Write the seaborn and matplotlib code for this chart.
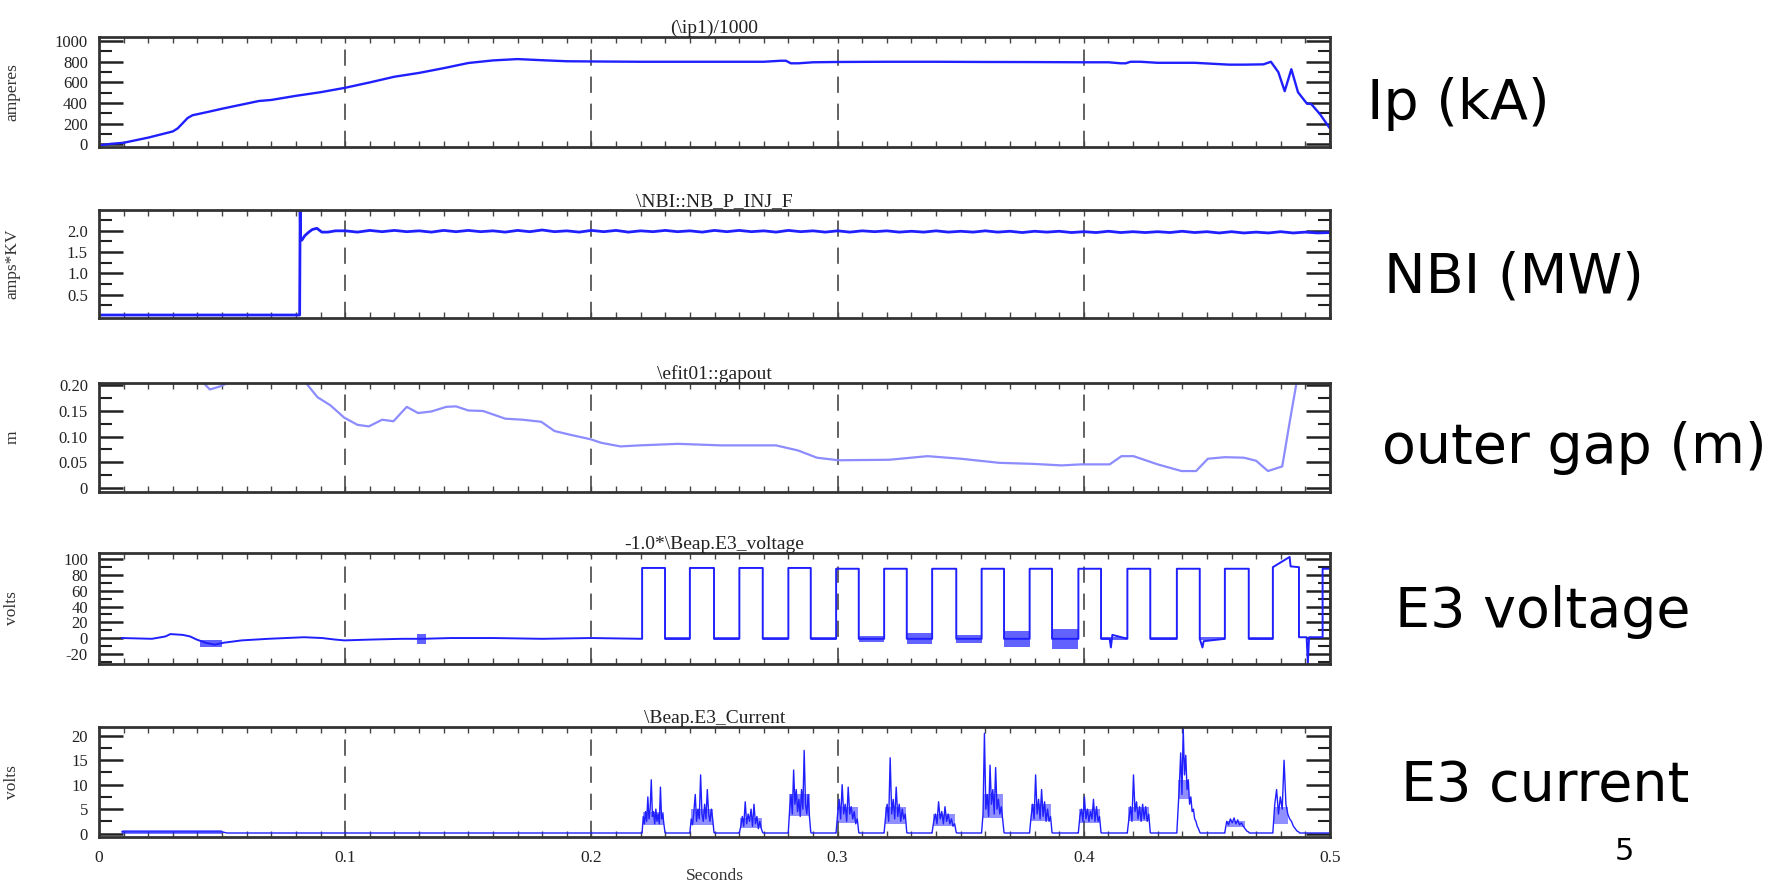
import numpy as np
import pandas as pd
import matplotlib
matplotlib.use("Agg")
import matplotlib.pyplot as plt
import seaborn as sns
from matplotlib.ticker import FixedLocator, MultipleLocator

sns.set_theme(style="white")
plt.rcParams['font.family'] = ['Liberation Serif', 'DejaVu Serif']

# ---------------- data ----------------
x_ticks = [0.0, 0.1, 0.2, 0.3, 0.4, 0.5]
x_tick_labels = ["0", "0.1", "0.2", "0.3", "0.4", "0.5"]

titles = ["(\\ip1)/1000", "\\NBI::NB_P_INJ_F", "\\efit01::gapout",
          "-1.0*\\Beap.E3_voltage", "\\Beap.E3_Current"]
ylabels = ["amperes", "amps*KV", "m", "volts", "volts"]
side_labels = ["Ip (kA)", "NBI (MW)", "outer gap (m)", "E3 voltage", "E3 current"]
page_number = "5"

# Plasma current
ip_t = [0.000, 0.005, 0.010, 0.015, 0.020, 0.025, 0.030, 0.032, 0.034, 0.036, 0.038, 0.040,
        0.045, 0.050, 0.060, 0.065, 0.070, 0.080, 0.090, 0.100, 0.110, 0.120, 0.130, 0.140,
        0.150, 0.160, 0.170, 0.180, 0.190, 0.200, 0.220, 0.240, 0.260, 0.270, 0.277, 0.279,
        0.281, 0.284, 0.290, 0.300, 0.320, 0.340, 0.360, 0.380, 0.400, 0.410, 0.415, 0.417,
        0.419, 0.423, 0.430, 0.445, 0.459, 0.465, 0.473, 0.476, 0.479, 0.4816, 0.4843, 0.487,
        0.4906, 0.4924, 0.496, 0.500]
ip_v = [-10, 5, 15, 40, 65, 95, 125, 155, 205, 255, 282, 292,
        318, 345, 395, 420, 430, 470, 505, 548, 600, 655, 692, 738,
        788, 813, 826, 815, 805, 803, 800, 800, 800, 800, 810, 810,
        785, 785, 795, 798, 800, 800, 798, 797, 795, 795, 785, 785,
        800, 800, 790, 790, 772, 772, 775, 800, 700, 515, 728, 505,
        395, 390, 290, 153]

# NBI power
nbi_pre_t = [0.0, 0.0815, 0.0817, 0.0819, 0.0824, 0.0835, 0.0850, 0.0866, 0.0885, 0.0905, 0.0930, 0.0960]
nbi_pre_v = [0.02, 0.02, 2.48, 1.80, 1.78, 1.88, 1.96, 2.03, 2.06, 1.97, 1.97, 2.00]
nbi_plateau_t0, nbi_plateau_dt = 0.100, 0.005
nbi_plateau_v = [2.00, 1.97, 2.01, 1.98, 2.01, 1.98, 2.00, 1.97, 2.01, 1.98,
                 2.01, 1.98, 2.00, 1.97, 2.01, 1.98, 2.02, 1.98, 2.00, 1.97,
                 2.01, 1.98, 2.01, 1.97, 2.00, 1.98, 2.01, 1.98, 2.00, 1.97,
                 2.01, 1.98, 2.01, 1.98, 2.00, 1.97, 2.01, 1.98, 2.00, 1.97,
                 2.00, 1.97, 2.00, 1.98, 2.00, 1.97, 1.99, 1.97, 2.00, 1.97,
                 1.99, 1.97, 2.00, 1.97, 1.99, 1.96, 1.99, 1.97, 1.99, 1.96,
                 1.98, 1.96, 1.99, 1.96, 1.98, 1.96, 1.98, 1.96, 1.99, 1.96,
                 1.98, 1.95, 1.98, 1.95, 1.97, 1.95, 1.98, 1.95, 1.97, 1.95, 1.96]

# Outer gap
gap_t = [0.010, 0.040, 0.0424, 0.045, 0.0487, 0.054, 0.060, 0.080, 0.084, 0.0887,
         0.094, 0.0996, 0.105, 0.1096, 0.115, 0.1196, 0.125, 0.1296, 0.135, 0.141,
         0.145, 0.150, 0.156, 0.165, 0.172, 0.1796, 0.185, 0.192, 0.1996, 0.204,
         0.2118, 0.2196, 0.2352, 0.2527, 0.275, 0.284, 0.2916, 0.3004, 0.321, 0.3365,
         0.350, 0.3657, 0.3793, 0.391, 0.3988, 0.4105, 0.4153, 0.4202, 0.430, 0.4397,
         0.4456, 0.4504, 0.4573, 0.465, 0.470, 0.4748, 0.4806, 0.4835, 0.4864, 0.490, 0.500]
gap_v = [0.300, 0.260, 0.205, 0.192, 0.197, 0.208, 0.260, 0.260, 0.205, 0.177,
         0.161, 0.137, 0.123, 0.120, 0.133, 0.130, 0.158, 0.146, 0.149, 0.158,
         0.159, 0.151, 0.150, 0.135, 0.133, 0.129, 0.111, 0.103, 0.095, 0.088,
         0.081, 0.083, 0.086, 0.083, 0.083, 0.073, 0.059, 0.054, 0.055, 0.062,
         0.057, 0.049, 0.047, 0.044, 0.046, 0.046, 0.062, 0.062, 0.046, 0.033,
         0.033, 0.057, 0.060, 0.059, 0.053, 0.033, 0.042, 0.125, 0.205, 0.300, 0.300]

# E3 voltage
e3v_pre_t = [0.0092, 0.0215, 0.027, 0.029, 0.034, 0.037, 0.0397, 0.0433, 0.047, 0.0506,
             0.058, 0.0687, 0.0833, 0.0906, 0.096, 0.0997, 0.110, 0.123, 0.1315, 0.143,
             0.160, 0.180, 0.200, 0.2206]
e3v_pre_v = [0.0, -1.0, 2.0, 5.0, 4.0, 2.0, -2.0, -6.0, -8.5, -6.0,
             -3.0, -1.0, 1.0, 0.0, -2.0, -3.0, -2.0, -1.0, -1.0, 0.0,
             0.0, -1.0, 0.0, -1.0]
e3v_rise = [0.2206, 0.2400, 0.2601, 0.2800, 0.2994, 0.3189, 0.3384, 0.3585,
            0.3780, 0.3978, 0.4177, 0.4378, 0.4573, 0.4768, 0.4970]
e3v_fall = [0.2299, 0.2498, 0.2696, 0.2891, 0.3086, 0.3281, 0.3482, 0.3676,
            0.3871, 0.4070, 0.4270, 0.4471, 0.4670, 0.4874]
e3v_high = [89, 89, 89, 89, 88, 88, 88, 88, 88, 88, 88, 88, 88, 90, 88]
e3v_low = [-1, -1, -1, -1, -1, -1, -1, -1, -1, -1, -1, -1, -1, 1]
e3v_detail_t = [0.4105, 0.4110, 0.4116, 0.4482, 0.4487, 0.4836, 0.4840, 0.4905, 0.4910, 0.4915]
e3v_detail_v = [-1, -12, 4, -12, -4, 103, 91, 1, -32, 1]
e3v_band_t0 = [0.0410, 0.1290, 0.2299, 0.2498, 0.2696, 0.2891, 0.3086, 0.3281, 0.3482, 0.3676, 0.3871, 0.4070, 0.4270, 0.4471, 0.4670]
e3v_band_t1 = [0.0500, 0.1330, 0.2400, 0.2601, 0.2800, 0.2994, 0.3189, 0.3384, 0.3585, 0.3780, 0.3978, 0.4177, 0.4378, 0.4573, 0.4768]
e3v_band_lo = [-12, -7, -3, -3, -3, -3, -5, -8, -6, -11, -14, -3, -3, -3, -3]
e3v_band_hi = [-3, 5, 1, 1, 1, 1, 2, 6, 4, 9, 12, 1, 1, 1, 1]

# E3 current
cur_base_t = [0.0092, 0.0500, 0.0520, 0.2206]
cur_base_v = [0.35, 0.35, 0.12, 0.12]
cur_base_level = 0.12
cur_end_t = 0.500
cur_bursts = [
    [0.2, 3.5, 2.0, 4.5, 2.5, 7.5, 3.0, 5.0, 11.0, 3.5, 4.5, 2.0, 5.0, 2.5, 4.0, 2.0, 9.5, 3.0, 4.0, 2.0, 0.2],
    [0.2, 3.0, 1.8, 4.5, 8.0, 2.5, 5.0, 3.0, 12.0, 4.0, 2.5, 6.0, 3.0, 9.0, 4.0, 2.5, 5.0, 3.0, 0.2],
    [0.2, 1.5, 3.5, 1.5, 6.5, 2.0, 4.0, 2.5, 5.0, 1.5, 6.0, 2.0, 3.5, 1.0, 2.5, 1.0, 0.2],
    [0.5, 5.0, 8.0, 4.0, 13.0, 6.0, 9.0, 4.5, 7.0, 3.5, 9.0, 5.0, 17.0, 6.0, 4.0, 8.0, 3.5, 0.3],
    [0.3, 4.0, 7.0, 3.0, 10.0, 4.0, 6.0, 2.5, 9.5, 4.0, 5.5, 3.0, 4.5, 2.0, 3.0, 0.2],
    [0.3, 3.5, 6.0, 2.5, 15.5, 4.0, 7.0, 3.0, 9.5, 3.5, 6.0, 2.5, 5.0, 3.0, 4.0, 0.2],
    [0.3, 2.5, 4.0, 2.0, 6.5, 3.0, 4.5, 2.0, 5.5, 2.5, 4.0, 2.0, 3.0, 1.5, 2.0, 0.2],
    [0.3, 4.0, 20.5, 5.0, 8.0, 3.5, 14.0, 6.0, 9.0, 4.0, 13.5, 5.0, 7.0, 4.0, 5.5, 3.0, 0.2],
    [0.3, 3.5, 6.0, 3.0, 12.0, 4.0, 7.0, 3.0, 9.0, 3.5, 6.5, 2.5, 5.0, 2.5, 3.5, 0.2],
    [0.3, 3.5, 5.0, 2.5, 7.5, 3.0, 5.0, 2.5, 4.5, 3.0, 7.0, 2.5, 5.5, 2.5, 3.5, 0.2],
    [0.3, 3.0, 5.5, 2.5, 12.0, 4.5, 6.5, 3.0, 5.5, 2.5, 6.0, 3.0, 5.5, 2.5, 4.0, 0.2],
    [0.3, 5.0, 10.0, 16.5, 8.0, 21.5, 12.0, 16.0, 9.0, 11.0, 6.0, 7.5, 4.5, 5.0, 3.0, 2.5, 1.5, 1.0, 0.3],
    [0.3, 2.5, 1.8, 3.0, 2.2, 3.2, 2.0, 2.8, 1.8, 2.2, 1.5, 1.0, 0.5, 0.3],
    [0.3, 6.0, 9.0, 4.0, 7.5, 5.0, 15.0, 6.0, 4.0, 3.0, 2.5, 1.5, 1.0, 0.5, 0.3],
]
# dense noisy body of each burst (lower / upper envelope)
cur_band_t0 = [0.2210, 0.2404, 0.2605, 0.2804, 0.2998, 0.3193, 0.3388, 0.3589, 0.3784, 0.3982, 0.4181, 0.4384, 0.4580, 0.4772]
cur_band_t1 = [0.2295, 0.2494, 0.2692, 0.2887, 0.3082, 0.3277, 0.3478, 0.3672, 0.3867, 0.4066, 0.4266, 0.4428, 0.4655, 0.4828]
cur_band_lo = [1.8, 1.8, 1.2, 3.5, 2.2, 2.0, 1.6, 3.2, 2.5, 2.2, 2.5, 7.0, 1.4, 2.0]
cur_band_hi = [4.5, 5.0, 3.2, 8.0, 5.5, 5.5, 4.0, 8.0, 6.0, 5.0, 5.5, 11.0, 2.6, 5.5]

panel_ylims = [(-26, 1040), (-0.05, 2.49), (-0.0078, 0.2045), (-33, 108), (-0.7, 21.8)]
panel_major = [[0, 200, 400, 600, 800, 1000], [0.5, 1.0, 1.5, 2.0],
               [0, 0.05, 0.10, 0.15, 0.20], [-20, 0, 20, 40, 60, 80, 100], [0, 5, 10, 15, 20]]
panel_major_labels = [["0", "200", "400", "600", "800", "1000"], ["0.5", "1.0", "1.5", "2.0"],
                      ["0", "0.05", "0.10", "0.15", "0.20"],
                      ["-20", "0", "20", "40", "60", "80", "100"], ["0", "5", "10", "15", "20"]]
panel_minor = [[100, 300, 500, 700, 900], [0.25, 0.75, 1.25, 1.75, 2.25],
               [0.025, 0.075, 0.125, 0.175], [-30, -10, 10, 30, 50, 70, 90],
               [2.5, 7.5, 12.5, 17.5]]

# ---------------- build series ----------------
nbi_t = nbi_pre_t + [round(nbi_plateau_t0 + i * nbi_plateau_dt, 4) for i in range(len(nbi_plateau_v))]
nbi_v = nbi_pre_v + nbi_plateau_v

pts = list(zip(e3v_pre_t[:-1], e3v_pre_v[:-1]))
prev_low = e3v_pre_v[-1]
for i, tr in enumerate(e3v_rise):
    pts.append((tr, prev_low))
    pts.append((tr, e3v_high[i]))
    if i < len(e3v_fall):
        pts.append((e3v_fall[i], e3v_high[i]))
        pts.append((e3v_fall[i], e3v_low[i]))
        prev_low = e3v_low[i]
    else:
        pts.append((0.5, e3v_high[i]))
pts += list(zip(e3v_detail_t, e3v_detail_v))
pts = sorted(pts, key=lambda p: p[0])
e3v_df = pd.DataFrame(pts, columns=["t", "v"])

cpts = list(zip(cur_base_t, cur_base_v))
for i, vals in enumerate(cur_bursts):
    ts = np.linspace(e3v_rise[i], e3v_fall[i], len(vals))
    cpts += list(zip(ts, vals))
    nxt = e3v_rise[i + 1] if i + 1 < len(cur_bursts) else cur_end_t
    cpts.append((e3v_fall[i] + 0.0002, cur_base_level))
    cpts.append((nxt, cur_base_level))
cur_df = pd.DataFrame(cpts, columns=["t", "v"])

# ---------------- figure ----------------
W, H = 1786, 889
fig = plt.figure(figsize=(W / 100, H / 100), dpi=100)
left_px, right_px = 99, 1330
panel_px = [(37, 147), (210, 318), (383, 492), (553, 664), (727, 837)]
axes = []
for (top, bot) in panel_px:
    ax = fig.add_axes([left_px / W, 1 - bot / H, (right_px - left_px) / W, (bot - top) / H])
    axes.append(ax)

blue = "#2020ff"
light_blue = "#8c8cff"

sns.lineplot(x=ip_t, y=ip_v, ax=axes[0], estimator=None, sort=False, color=blue, linewidth=1.7)
sns.lineplot(x=nbi_t, y=nbi_v, ax=axes[1], estimator=None, sort=False, color=blue, linewidth=2.0)
sns.lineplot(x=gap_t, y=gap_v, ax=axes[2], estimator=None, sort=False, color=light_blue, linewidth=1.6)
for t0, t1, lo, hi in zip(e3v_band_t0, e3v_band_t1, e3v_band_lo, e3v_band_hi):
    axes[3].fill_between([t0, t1], [lo, lo], [hi, hi], color=blue, alpha=0.7, linewidth=0)
sns.lineplot(data=e3v_df, x="t", y="v", ax=axes[3], estimator=None, sort=False, color=blue, linewidth=1.4)
for t0, t1, lo, hi in zip(cur_band_t0, cur_band_t1, cur_band_lo, cur_band_hi):
    axes[4].fill_between([t0, t1], [lo, lo], [hi, hi], color=blue, alpha=0.5, linewidth=0)
sns.lineplot(data=cur_df, x="t", y="v", ax=axes[4], estimator=None, sort=False, color=blue, linewidth=1.0)
axes[4].fill_between([cur_base_t[0], cur_base_t[1]], [0.0, 0.0], [0.7, 0.7], color=blue, alpha=0.6, linewidth=0)

tick_col = "#222222"
for i, ax in enumerate(axes):
    ax.set_xlim(0, 0.5)
    ax.set_ylim(*panel_ylims[i])
    ax.xaxis.set_major_locator(FixedLocator(x_ticks))
    ax.xaxis.set_minor_locator(MultipleLocator(0.01))
    ax.yaxis.set_major_locator(FixedLocator(panel_major[i]))
    ax.yaxis.set_minor_locator(FixedLocator(panel_minor[i]))
    ax.set_yticklabels(panel_major_labels[i])
    ax.tick_params(axis='y', which='major', direction='in', length=17, width=1.8,
                   left=True, right=True, color=tick_col, labelsize=12, labelcolor=tick_col, pad=8)
    ax.tick_params(axis='y', which='minor', direction='in', length=9, width=1.5,
                   left=True, right=True, color=tick_col)
    ax.tick_params(axis='x', which='both', direction='in', length=4, width=1.0,
                   top=True, bottom=True, color="#444444", labelsize=12.5, labelcolor=tick_col, pad=9)
    ax.grid(False)
    ax.grid(True, axis='x', which='major', linestyle=(0, (9, 6)), color="#555555", linewidth=1.3)
    for s in ax.spines.values():
        s.set_visible(True)
        s.set_linewidth(2.0)
        s.set_color("#333333")
    ax.set_title(titles[i], fontsize=14, pad=3, color=tick_col)
    ax.set_ylabel(ylabels[i], fontsize=12.5, color="#333333")
    ax.yaxis.set_label_coords(-0.064, 0.5)
    if i < 4:
        ax.tick_params(axis='x', labelbottom=False)
        ax.set_xlabel("")
    else:
        ax.set_xticklabels(x_tick_labels)
        ax.set_xlabel("Seconds", fontsize=12.5, color="#333333", labelpad=2)

side_pos = [(1367, 104), (1384, 278), (1382, 448), (1395, 612), (1401, 786)]
for (px, py), lab in zip(side_pos, side_labels):
    fig.text(px / W, 1 - py / H, lab, fontsize=40, family='DejaVu Sans', color='black',
             ha='left', va='center')
fig.text(1624 / W, 1 - 852 / H, page_number, fontsize=22, family='DejaVu Sans', color='black',
         ha='center', va='center')

fig.savefig("out.png", dpi=100)
